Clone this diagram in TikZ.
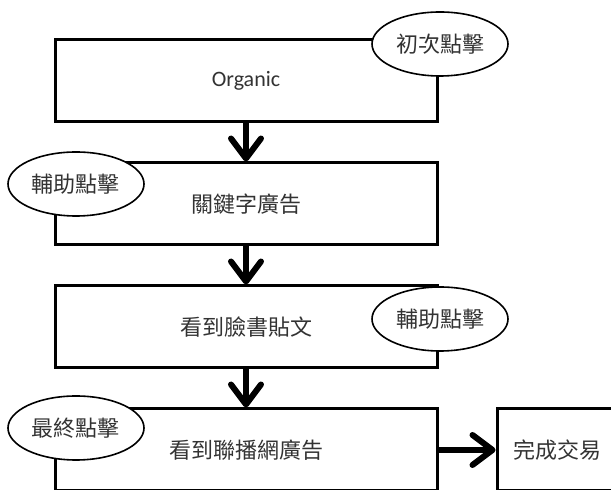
\documentclass[tikz,border=0pt]{standalone}
\usepackage{fontspec}
\setmainfont{Carlito}
\newfontfamily\cjk{Noto Sans CJK TC}
\usetikzlibrary{arrows.meta,shapes.geometric}
\tikzset{
	stage/.style={draw,line width=1.5pt,minimum width=191pt,minimum height=41pt,inner sep=0pt,text=black!80},
	click/.style={ellipse,draw,fill=white,line width=0.8pt,minimum width=68pt,minimum height=32pt,inner sep=0pt,text=black!80},
	flow/.style={line width=3pt,-{Straight Barb[length=10pt,width=15pt,round]}}
}
\begin{document}
\begin{tikzpicture}[x=0.5pt,y=-0.5pt,font=\fontsize{11}{13}\selectfont]
		\useasboundingbox (0,0) rectangle (611,490);
		\clip (0,0) rectangle (611,490);
		% the four steps of the path
		\node[stage] (organic) at (246,81) {Organic};
		\node[stage] (keyword) at (246,204) {\cjk 關鍵字廣告};
		\node[stage] (fbpost) at (246,327) {\cjk 看到臉書貼文};
		\node[stage] (display) at (246,450) {\cjk 看到聯播網廣告};
		\node[stage,minimum width=60pt] (deal) at (557,450) {\cjk 完成交易};
		\draw[flow] (organic) -- (keyword);
		\draw[flow] (keyword) -- (fbpost);
		\draw[flow] (fbpost) -- (display);
		\draw[flow] (display) -- (deal);
		% click labels
		\node[click] (first) at (440,44) {\cjk 初次點擊};
		\node[click] (assist1) at (76,184) {\cjk 輔助點擊};
		\node[click] (assist2) at (440,319) {\cjk 輔助點擊};
		\node[click] (last) at (76,428) {\cjk 最終點擊};
\end{tikzpicture}
\end{document}
